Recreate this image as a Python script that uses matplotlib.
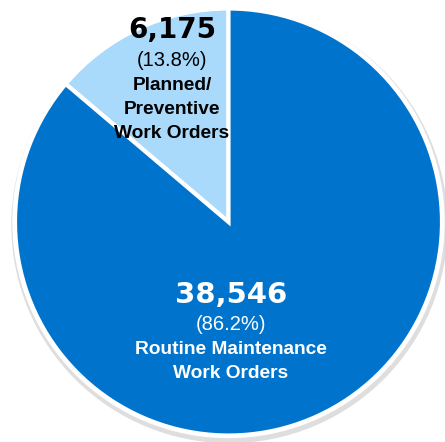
import matplotlib.pyplot as plt
from matplotlib.patches import Circle

# work order counts
labels = ["Planned/\nPreventive\nWork Orders", "Routine Maintenance\nWork Orders"]
counts = [6175, 38546]
colors = ["#A9D9FB", "#0074CC"]
text_colors = ["black", "white"]

total = sum(counts)
pcts = [c / total * 100 for c in counts]

W, H = 445, 442
fig = plt.figure(figsize=(W / 100, H / 100), dpi=100)
ax = fig.add_axes([0, 0, 1, 1])

cx, cy, r = 228.5, H - 222, 213.5

# soft shadow on the rim
ax.add_patch(Circle((cx + 1, cy - 3), r + 4, color="#dedede", zorder=0))
ax.add_patch(Circle((cx, cy), r + 2, color="white", zorder=0.5))

ax.pie(counts, colors=colors, startangle=90, counterclock=True,
       center=(cx, cy), radius=r, frame=True,
       wedgeprops=dict(edgecolor="white", linewidth=3))
ax.set_xlim(0, W)
ax.set_ylim(0, H)
ax.set_aspect("equal")
ax.axis("off")

plt.rcParams['font.family'] = ['Liberation Sans', 'DejaVu Sans']

# small slice label
x0 = 172
ax.text(x0, H - 38, f"{counts[0]:,}", ha="center", va="baseline", fontsize=20,
        fontweight="bold", family="DejaVu Sans", color=text_colors[0])
ax.text(x0, H - 61, f"({pcts[0]:.1f}%)", ha="center", va="center", fontsize=14.5,
        color=text_colors[0])
ax.text(x0, H - 109.5, labels[0], ha="center", va="center", fontsize=13.8,
        fontweight="bold", color=text_colors[0], linespacing=1.52)

# big slice label
x1 = 231
ax.text(x1, H - 303, f"{counts[1]:,}", ha="center", va="baseline", fontsize=21,
        fontweight="bold", family="DejaVu Sans", color=text_colors[1])
ax.text(x1, H - 325, f"({pcts[1]:.1f}%)", ha="center", va="center", fontsize=14.5,
        color=text_colors[1])
ax.text(x1, H - 361.5, labels[1], ha="center", va="center", fontsize=13.8,
        fontweight="bold", color=text_colors[1], linespacing=1.52)

fig.savefig("out.png", dpi=100)
